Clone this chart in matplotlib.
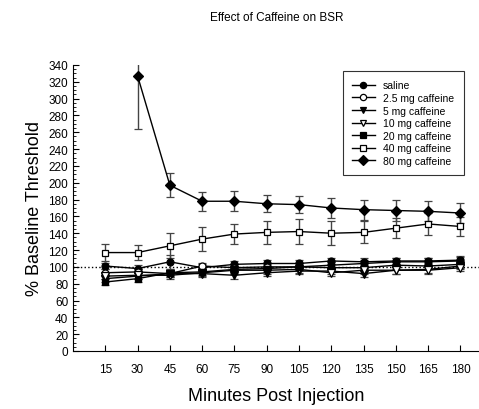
import numpy as np
import matplotlib
matplotlib.use('Agg')
import matplotlib.pyplot as plt
from matplotlib.ticker import MultipleLocator

plt.rcParams['font.family'] = ['Liberation Sans', 'DejaVu Sans']

minutes = [15, 30, 45, 60, 75, 90, 105, 120, 135, 150, 165, 180]

saline = [101, 98, 106, 99, 103, 104, 104, 107, 106, 107, 107, 108]
saline_err = [4, 4, 8, 4, 4, 4, 4, 4, 4, 4, 4, 5]
mg2_5 = [93, 94, 92, 101, 99, 100, 100, 99, 99, 102, 101, 103]
mg2_5_err = [4, 4, 4, 4, 4, 4, 4, 4, 4, 4, 4, 4]
mg5 = [86, 89, 92, 92, 90, 93, 95, 95, 92, 96, 97, 101]
mg5_err = [4, 4, 4, 4, 4, 4, 4, 4, 4, 4, 4, 4]
mg10 = [89, 90, 90, 93, 96, 96, 97, 93, 96, 96, 96, 99]
mg10_err = [4, 4, 4, 4, 4, 4, 4, 4, 4, 4, 4, 4]
mg20 = [82, 86, 93, 94, 97, 98, 100, 102, 104, 106, 106, 107]
mg20_err = [4, 4, 4, 4, 4, 4, 4, 4, 4, 4, 4, 5]
mg40 = [117, 117, 125, 133, 139, 141, 142, 140, 141, 146, 151, 148]
mg40_err = [10, 9, 15, 14, 12, 14, 15, 14, 13, 12, 13, 11]
mg80 = [np.nan, 327, 197, 178, 178, 175, 174, 170, 168, 167, 166, 164]
mg80_err = [np.nan, 63, 14, 11, 12, 10, 10, 12, 12, 12, 12, 12]

series = [
    ("saline", saline, saline_err, 'o', 'black'),
    ("2.5 mg caffeine", mg2_5, mg2_5_err, 'o', 'white'),
    ("5 mg caffeine", mg5, mg5_err, 'v', 'black'),
    ("10 mg caffeine", mg10, mg10_err, 'v', 'white'),
    ("20 mg caffeine", mg20, mg20_err, 's', 'black'),
    ("40 mg caffeine", mg40, mg40_err, 's', 'white'),
    ("80 mg caffeine", mg80, mg80_err, 'D', 'black'),
]

fig = plt.figure(figsize=(4.79, 4.10), dpi=100)
ax = fig.add_axes([0.1524, 0.1415, 0.8476, 0.6976])

ax.axhline(y=100, color='black', linestyle=':', linewidth=1, zorder=1)

for name, vals, err, mk, fc in series:
    ms = 5.5 if mk in ('D', 'v') else 5
    ax.errorbar(minutes, vals, yerr=err, label=name, color='black', ecolor='#444444',
                elinewidth=1, capsize=3, capthick=1, linewidth=1,
                marker=mk, markersize=ms, markerfacecolor=fc, markeredgecolor='black',
                markeredgewidth=0.9, zorder=3)

ax.set_xlim(0, 188.6)
ax.set_ylim(0, 340)
ax.set_xticks(minutes)
ax.set_yticks(range(0, 341, 20))
ax.yaxis.set_minor_locator(MultipleLocator(5))
ax.tick_params(axis='both', which='major', direction='in', labelsize=8.5, length=4, width=0.8)
ax.tick_params(axis='y', which='minor', direction='in', length=2, width=0.6)
ax.tick_params(axis='x', pad=9)
ax.spines['top'].set_visible(False)
ax.spines['right'].set_visible(False)

ax.set_xlabel("Minutes Post Injection", fontsize=13, labelpad=8)
ax.set_ylabel("% Baseline Threshold", fontsize=13, labelpad=4)
fig.text(0.578, 0.955, "Effect of Caffeine on BSR", ha='center', va='center', fontsize=8.5)

handles, labels = ax.get_legend_handles_labels()
handles = [h[0] for h in handles]
leg = ax.legend(handles, labels, loc='upper right', bbox_to_anchor=(0.975, 0.997),
                fontsize=7.5, frameon=True, fancybox=False, edgecolor='black',
                handlelength=2.2, labelspacing=0.25, borderpad=0.9, markerscale=0.9)
leg.get_frame().set_linewidth(0.8)

plt.savefig('out.png', dpi=100)
